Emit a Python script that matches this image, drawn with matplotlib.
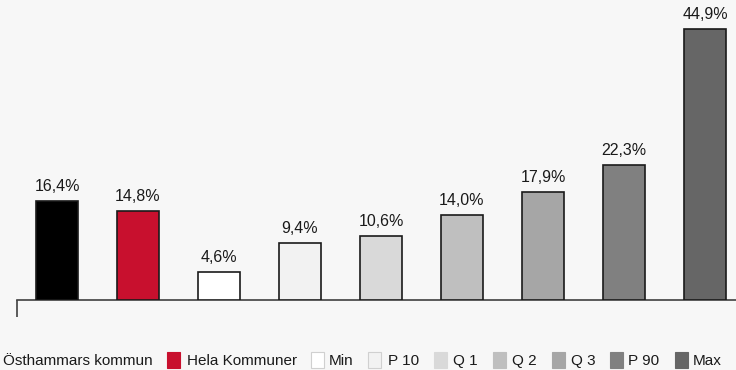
import matplotlib
matplotlib.use("Agg")
import matplotlib.pyplot as plt
from matplotlib.patches import Rectangle

categories = ["Östhammars kommun", "Hela Kommuner", "Min", "P 10", "Q 1", "Q 2", "Q 3", "P 90", "Max"]
values = [16.4, 14.8, 4.6, 9.4, 10.6, 14.0, 17.9, 22.3, 44.9]
colors = ["#000000", "#c8102e", "#ffffff", "#f2f2f2", "#d9d9d9", "#bfbfbf", "#a6a6a6", "#808080", "#666666"]
labels = [f"{v:.1f}%".replace(".", ",") for v in values]

plt.rcParams['font.family'] = ['Liberation Sans', 'DejaVu Sans']
W, H = 736, 370
bg = "#f7f7f7"
fig = plt.figure(figsize=(W / 100, H / 100), dpi=100, facecolor=bg)
ax = fig.add_axes([16.5 / W, 70 / H, 729 / W, 300 / H])
ax.set_facecolor(bg)

x = list(range(len(values)))
ax.bar(x, values, width=0.52, color=colors, edgecolor="#1a1a1a", linewidth=1.2, zorder=3)
for xi, v, lab in zip(x, values, labels):
    ax.annotate(lab, (xi, v), xytext=(0, 5), textcoords="offset points",
                ha="center", va="bottom", fontsize=11.5, color="#1a1a1a")

ax.set_xlim(-0.5, 8.5)
ax.set_ylim(0, 300 / 6.04)
for s in ["top", "right", "left"]:
    ax.spines[s].set_visible(False)
ax.spines["bottom"].set_color("#404040")
ax.spines["bottom"].set_linewidth(1.2)
ax.set_yticks([])
ax.set_xticks([-0.5])
ax.set_xticklabels([""])
ax.tick_params(axis="x", length=12, width=1.2, color="#404040", direction="out")

# legend (manual, first patch is clipped off the left edge)
leg_y = 361
patch_x = [-30, 167, 311, 368, 434, 493, 552, 610, 675]
text_x = [3, 187, 329, 388, 453, 512, 571, 628, 693]
for i, cat in enumerate(categories):
    ec = "#d0d0d0" if i in (2, 3) else colors[i]
    fig.patches.append(Rectangle((patch_x[i] / W, (H - 368) / H), 12.5 / W, 16 / H,
                                 transform=fig.transFigure, facecolor=colors[i],
                                 edgecolor=ec, linewidth=0.8, figure=fig))
    fig.text(text_x[i] / W, (H - leg_y) / H, cat, fontsize=11, color="#1a1a1a",
             ha="left", va="center")

fig.savefig("out.png", dpi=100, facecolor=bg)
